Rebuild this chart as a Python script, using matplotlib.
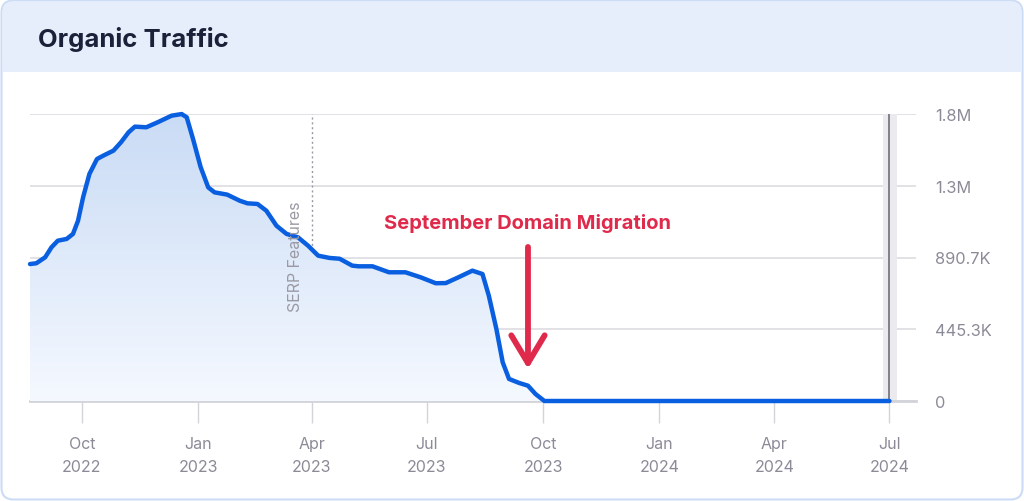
import matplotlib.pyplot as plt
import matplotlib.dates as mdates
from matplotlib.patches import FancyBboxPatch, Rectangle, FancyArrowPatch
import numpy as np
import pandas as pd

# Data (organic traffic, thousands of visits)
dates = ["2022-08-21", "2022-08-26", "2022-09-02", "2022-09-07", "2022-09-12",
         "2022-09-19", "2022-09-24", "2022-09-28", "2022-10-02", "2022-10-07",
         "2022-10-13", "2022-10-18", "2022-10-26", "2022-11-01", "2022-11-07",
         "2022-11-12", "2022-11-21", "2022-11-30", "2022-12-11", "2022-12-19",
         "2022-12-23", "2022-12-28", "2023-01-03", "2023-01-09", "2023-01-14",
         "2023-01-24", "2023-02-03", "2023-02-09", "2023-02-17", "2023-02-24",
         "2023-03-04", "2023-03-12", "2023-03-21", "2023-03-29", "2023-04-06",
         "2023-04-15", "2023-04-23", "2023-05-03", "2023-05-08", "2023-05-19",
         "2023-06-01", "2023-06-14", "2023-06-26", "2023-07-08", "2023-07-16",
         "2023-07-26", "2023-08-06", "2023-08-14", "2023-08-19", "2023-08-25",
         "2023-08-30", "2023-09-04", "2023-09-12", "2023-09-19", "2023-09-25",
         "2023-10-02", "2024-07-01"]
traffic = [850, 855, 892, 954, 995, 1006, 1037, 1119, 1264, 1409,
           1502, 1523, 1554, 1606, 1668, 1703, 1699, 1730, 1771, 1781,
           1761, 1626, 1452, 1326, 1295, 1281, 1243, 1227, 1223, 1181,
           1088, 1037, 1016, 964, 902, 888, 883, 840, 836, 836,
           799, 799, 768, 731, 732, 768, 809, 788, 654, 447,
           240, 137, 112, 95, 43, 0, 0]

y_ticks = [0, 445.35, 890.7, 1336.05, 1781.4]
y_labels = ["0", "445.3K", "890.7K", "1.3M", "1.8M"]
x_ticks = ["2022-10-01", "2023-01-01", "2023-04-01", "2023-07-01",
           "2023-10-01", "2024-01-01", "2024-04-01", "2024-07-01"]

x = mdates.date2num(pd.to_datetime(dates))
y = np.array(traffic, dtype=float)

W, H = 1024, 502
fig = plt.figure(figsize=(W / 100, H / 100), dpi=100)
plt.rcParams['font.family'] = ['Inter', 'DejaVu Sans']

# card background + header
bg = fig.add_axes([0, 0, 1, 1])
bg.set_xlim(0, W)
bg.set_ylim(H, 0)
bg.axis('off')
bg.add_patch(FancyBboxPatch((1.5, 1.5), W - 3, H - 3, boxstyle="round,pad=0,rounding_size=12",
                            fc='white', ec='#cddcf6', lw=1.5))
bg.add_patch(FancyBboxPatch((2.5, 2.5), W - 5, 70, boxstyle="round,pad=0,rounding_size=11",
                            fc='#e6eefb', ec='none'))
bg.add_patch(Rectangle((2.5, 40), W - 5, 32.5, fc='#e6eefb', ec='none'))
fig.text(38 / W, 1 - 39 / H, "Organic Traffic", fontsize=18.5, fontweight='bold',
         color='#1b2139', va='center', ha='left')

# chart axes
left, right, top, bottom = 30, 916, 115, 402
ax = fig.add_axes([left / W, 1 - bottom / H, (right - left) / W, (bottom - top) / H])
ax.set_facecolor('none')
x0 = mdates.date2num(pd.Timestamp("2022-08-21"))
x1 = mdates.date2num(pd.Timestamp("2024-07-22"))
ax.set_xlim(x0, x1)
ax.set_ylim(0, 1781.4)

for s in ['top', 'left', 'right']:
    ax.spines[s].set_visible(False)
ax.spines['bottom'].set_color('#d3d3da')
ax.spines['bottom'].set_linewidth(2)

ax.set_yticks(y_ticks)
ax.set_yticklabels(y_labels)
ax.yaxis.tick_right()
ax.tick_params(axis='y', length=0, pad=14, labelsize=11.8, labelcolor='#8b8b98')
ax.grid(axis='y', color='#dcdce2', lw=1.2)
ax.set_axisbelow(True)

ax.set_xticks(mdates.date2num(pd.to_datetime(x_ticks)))
ax.xaxis.set_major_formatter(mdates.DateFormatter("%b\n%Y"))
ax.tick_params(axis='x', length=16, width=1, color='#d3d3da', pad=9,
               labelsize=11.5, labelcolor='#8b8b98')
for lab in ax.get_xticklabels():
    lab.set_linespacing(1.7)

# gray band / current marker at Jul 2024
jul = mdates.date2num(pd.Timestamp("2024-07-01"))
ax.axvspan(jul - 5, jul + 6, color='#ebebef', lw=0, zorder=1)
ax.axvline(jul, color='#6f6f78', lw=1.2, zorder=2)

# SERP features marker
apr = mdates.date2num(pd.Timestamp("2023-04-01"))
ax.axvline(apr, color='#9a9aa4', lw=1, ls=(0, (1.5, 2)), zorder=2)
ax.text(mdates.date2num(pd.Timestamp("2023-03-19")), 903, "SERP Features", rotation=90,
        ha='center', va='center', fontsize=11.5, color='#9a9aa5', zorder=5)

# gradient fill under the line
poly = ax.fill_between(x, y, 0, color='none', lw=0)
grad = np.linspace(0, 1, 256).reshape(-1, 1)
top_c = np.array([0.79, 0.86, 0.96])
bot_c = np.array([0.96, 0.975, 1.0])
img = top_c * (1 - grad[..., None]) + bot_c * grad[..., None]
img = img.reshape(256, 1, 3)
im = ax.imshow(img, extent=[x0, x1, 0, 1781.4], origin='upper', aspect='auto', zorder=3)
im.set_clip_path(poly.get_paths()[0], transform=ax.transData)

ax.plot(x, y, color='#0a5fe0', lw=3.2, solid_joinstyle='round', solid_capstyle='round',
        zorder=4, clip_on=False)

# annotation
sep = mdates.date2num(pd.Timestamp("2023-09-19"))
ax.text(sep, 1111, "September Domain Migration", ha='center', va='center',
        fontsize=14.5, fontweight='bold', color='#e02a4c', zorder=6)
arrow = FancyArrowPatch((sep, 956), (sep, 200),
                        arrowstyle='->,head_length=1.0,head_width=0.6',
                        mutation_scale=20, color='#e02a4c', lw=4.2,
                        shrinkA=0, shrinkB=0,
                        capstyle='round', joinstyle='round', zorder=6)
ax.add_patch(arrow)

fig.savefig("out.png", dpi=100)
